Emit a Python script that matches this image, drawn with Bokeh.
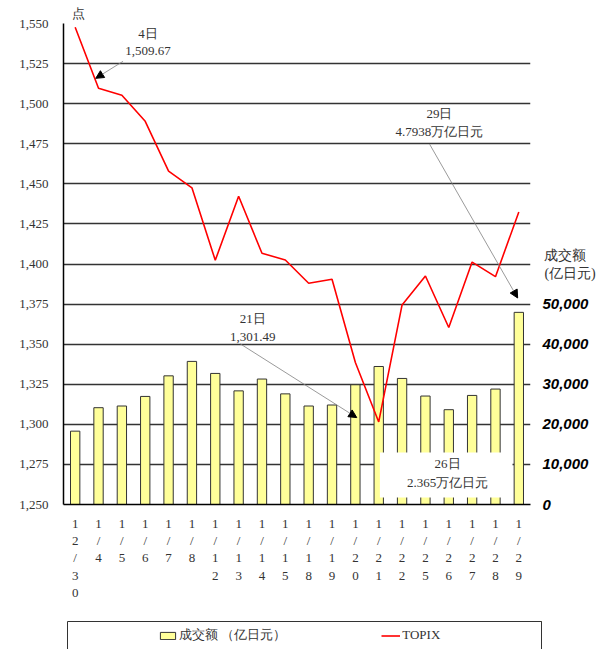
from bokeh.plotting import figure
from bokeh.layouts import column, row
from bokeh.models import (Range1d, LinearAxis, FixedTicker, NumeralTickFormatter, Label, Title,
                          Arrow, NormalHead, BoxAnnotation, Legend, LegendItem, Spacer)
from bokeh.embed import file_html
from bokeh.resources import INLINE

# ---- data ----
dates = ["12/30", "1/4", "1/5", "1/6", "1/7", "1/8", "1/12", "1/13", "1/14", "1/15",
         "1/18", "1/19", "1/20", "1/21", "1/22", "1/25", "1/26", "1/27", "1/28", "1/29"]
topix = [1547.7, 1509.67, 1505.2, 1489.0, 1457.9, 1447.5, 1402.3, 1442.3, 1406.7, 1402.5,
         1388.0, 1390.5, 1338.6, 1301.49, 1374.5, 1392.5, 1360.4, 1401.2, 1392.1, 1432.4]
volume = [18300, 24150, 24570, 26960, 32100, 35700, 32700, 28350, 31300, 27600,
          24570, 24820, 29870, 34430, 31450, 27060, 23650, 27210, 28800, 47938]
left_ticks = [1250, 1275, 1300, 1325, 1350, 1375, 1400, 1425, 1450, 1475, 1500, 1525, 1550]
right_ticks = [0, 10000, 20000, 30000, 40000, 50000]
vol_label = "成交额 （亿日元）"
topix_label = "TOPIX"
unit_left = "点"
unit_right = "成交额\n(亿日元)"
notes = [("4日", "1,509.67"), ("29日", "4.7938万亿日元"), ("21日", "1,301.49"), ("26日", "2.365万亿日元")]

xs = list(range(len(dates)))
SERIF = "Liberation Serif"
TXT = "#333333"
BAR_FILL = "#FFFF99"
BAR_LINE = "#333333"
RED = "#FF0000"

p = figure(width=598, height=620, output_backend="svg", toolbar_location=None, title=None,
           x_range=Range1d(-0.5, len(dates) - 0.5), y_range=Range1d(1250, 1550),
           min_border_left=63, min_border_right=67, min_border_top=22, min_border_bottom=116)
p.extra_y_ranges = {"vol": Range1d(0, 120000)}
p.outline_line_color = None
p.background_fill_color = "white"
p.border_fill_color = "white"

# axes
p.xaxis.ticker = FixedTicker(ticks=xs)
p.xaxis.major_label_overrides = {i: "\n".join(d) for i, d in enumerate(dates)}
p.xaxis.major_label_text_line_height = 1.16
p.xaxis.major_label_standoff = 11
p.xaxis.major_label_text_font = SERIF
p.xaxis.major_label_text_font_size = "13px"
p.xaxis.major_label_text_color = TXT
p.xaxis.axis_line_color = "black"
p.xaxis.axis_line_width = 1.5
p.xaxis.major_tick_out = 0
p.xaxis.major_tick_in = 0
p.xaxis.minor_tick_out = 0
p.xaxis.major_tick_line_color = None
p.xaxis.minor_tick_line_color = None

p.yaxis.ticker = FixedTicker(ticks=left_ticks)
p.yaxis.formatter = NumeralTickFormatter(format="0,0")
p.yaxis.major_label_standoff = 15
p.yaxis.major_label_text_font = SERIF
p.yaxis.major_label_text_font_size = "13px"
p.yaxis.major_label_text_color = TXT
p.yaxis.axis_line_color = "black"
p.yaxis.axis_line_width = 1.5
p.yaxis.major_tick_out = 0
p.yaxis.major_tick_in = 0
p.yaxis.minor_tick_out = 0
p.yaxis.major_tick_line_color = None
p.yaxis.minor_tick_line_color = None

raxis = LinearAxis(y_range_name="vol", ticker=FixedTicker(ticks=right_ticks),
                   formatter=NumeralTickFormatter(format="0,0"),
                   axis_line_color=None, major_tick_line_color=None, minor_tick_line_color=None,
                   major_tick_out=0, major_tick_in=0, minor_tick_out=0,
                   major_label_standoff=12, major_label_text_font="Liberation Sans",
                   major_label_text_font_style="bold italic", major_label_text_font_size="15px",
                   major_label_text_color="black",
                   axis_label=unit_right, axis_label_orientation="horizontal",
                   axis_label_standoff=-47, axis_label_text_font=SERIF,
                   axis_label_text_font_style="normal", axis_label_text_font_size="14px",
                   axis_label_text_color=TXT, axis_label_text_line_height=1.2)
p.add_layout(raxis, "right")

p.add_layout(Title(text=unit_left, align="left", offset=8, standoff=6,
                   text_font=SERIF, text_font_size="13px", text_font_style="normal",
                   text_color=TXT), "above")

p.xgrid.visible = False
p.ygrid.ticker = FixedTicker(ticks=left_ticks)
p.ygrid.grid_line_color = "#333333"
p.ygrid.grid_line_width = 1.3

# glyphs
bars = p.vbar(x=xs, top=volume, bottom=0, width=0.4, y_range_name="vol",
              fill_color=BAR_FILL, line_color=BAR_LINE, line_width=1)
line = p.line(x=xs, y=topix, line_color=RED, line_width=1.6)

# annotations
def lab(x, y, text, size="13px", font=SERIF):
    p.add_layout(Label(x=x, y=y, text=text, text_font=font, text_font_size=size,
                       text_color=TXT, text_align="center", text_baseline="middle"))

def arrow(x0, y0, x1, y1):
    p.add_layout(Arrow(x_start=x0, y_start=y0, x_end=x1, y_end=y1,
                       line_color="#808080", line_width=0.8,
                       end=NormalHead(size=8, fill_color="black", line_color="black")))

p.add_layout(BoxAnnotation(left=13.05, right=18.73, bottom=1254.4, top=1282.4,
                           fill_color="white", fill_alpha=1, line_color=None))

lab(3.12, 1543.8, notes[0][0]); lab(3.12, 1532.6, notes[0][1])
arrow(2.05, 1526.4, 0.88, 1515.8)
lab(15.6, 1494.0, notes[1][0]); lab(15.6, 1482.8, notes[1][1])
arrow(15.18, 1474.7, 18.95, 1378.8)
lab(7.61, 1365.8, notes[2][0]); lab(7.61, 1354.6, notes[2][1])
arrow(7.07, 1350.2, 12.06, 1304.2)
lab(15.95, 1275.5, notes[3][0]); lab(15.95, 1263.7, notes[3][1])

# ---- legend panel (box with items); its glyphs sit outside its view ----
p2 = figure(width=476, height=31, output_backend="svg", toolbar_location=None, title=None,
            x_range=Range1d(-200, -199), y_range=Range1d(-2, -1),
            x_axis_location=None, y_axis_location=None,
            min_border_left=1, min_border_right=1, min_border_top=1, min_border_bottom=0)
p2.grid.visible = False
p2.outline_line_color = "#333333"
p2.outline_line_width = 1
p2.background_fill_color = "white"
p2.border_fill_color = "white"
lb = p2.vbar(x=xs, top=volume, width=0.4, fill_color=BAR_FILL, line_color=BAR_LINE, line_width=1)
ll = p2.line(x=xs, y=topix, line_color=RED, line_width=1.6)
leg = Legend(items=[LegendItem(label=vol_label, renderers=[lb]),
                    LegendItem(label=topix_label, renderers=[ll])],
             location=(91, 7), orientation="horizontal", padding=0, margin=0,
             spacing=95, glyph_width=19, glyph_height=9, label_height=18,
             label_standoff=2, border_line_alpha=0, background_fill_alpha=0,
             label_text_font=SERIF, label_text_font_size="13px", label_text_color=TXT)
p2.add_layout(leg, "center")

layout = column(p, row(Spacer(width=66, height=31), p2))
open("out.html", "w").write(file_html(layout, INLINE))
